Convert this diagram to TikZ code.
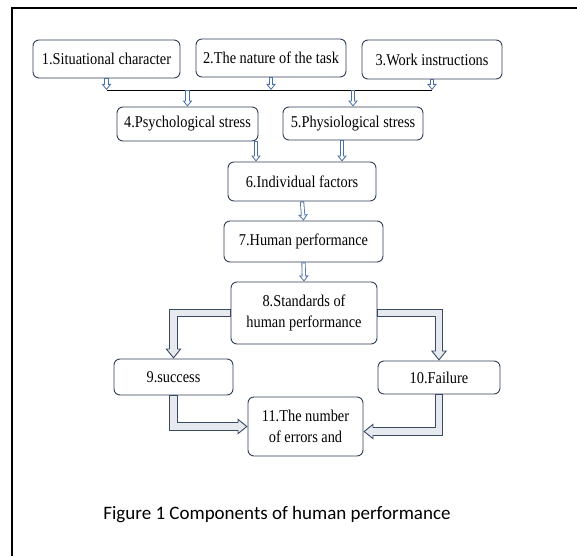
\documentclass[tikz,border=0pt]{standalone}
\usepackage{fontspec}
\setmainfont{Liberation Serif}[FakeStretch=0.87]
\newfontfamily\capfont{Carlito}
\usetikzlibrary{arrows.meta}
\usetikzlibrary{positioning}
\usetikzlibrary{calc}

\definecolor{boxline}{HTML}{2F3E55}
\definecolor{arrline}{HTML}{4A6FA5}
\definecolor{bigline}{HTML}{3A4A63}
\definecolor{bigfill}{HTML}{E6E9EE}

\tikzset{
  box/.style={draw=boxline, line width=0.9pt, rounded corners=6pt, align=center,
    inner sep=2pt, font=\fontsize{16.5}{21}\selectfont},
  hollow/.style={draw=arrline, line width=4.2pt,
    -{Triangle[length=6pt,width=9.5pt,line width=0.8pt,fill=white]},
    postaction={draw=white, line width=2.6pt, -, shorten >=5pt, shorten <=1pt}},
  bigarrow/.style={draw=bigline, line width=8.4pt,
    -{Triangle[length=10pt,width=16pt,line width=0.9pt,fill=bigfill]},
    postaction={draw=bigfill, line width=6.6pt, -, shorten >=8.5pt, shorten <=1pt}},
}

\begin{document}
\begin{tikzpicture}[x=1pt,y=1pt]
\useasboundingbox (0,0) rectangle (577,-556);
% frame
\draw[line width=1.8pt] (12,-556) -- (12,-8) -- (577,-8);

\node[box, minimum width=147pt, minimum height=38pt] (sit)   at (106.5,-59)  {1.Situational character};
\node[box, minimum width=150pt, minimum height=38pt] (task)  at (271,-58)    {2.The nature of the task};
\node[box, minimum width=140pt, minimum height=39pt] (instr) at (432,-59.5)  {3.Work instructions};
\node[box, minimum width=141pt, minimum height=34pt] (psy)   at (187.5,-124) {4.Psychological stress};
\node[box, minimum width=140pt, minimum height=33pt] (phys)  at (353,-123.5) {5.Physiological stress};
\node[box, minimum width=148pt, minimum height=39pt] (indiv) at (302,-181.5) {6.Individual factors};
\node[box, minimum width=159pt, minimum height=41pt] (perf)  at (303.5,-241.5) {7.Human performance};
\node[box, minimum width=146pt, minimum height=62pt] (std)   at (304,-313)   {8.Standards of\\human performance};
\node[box, minimum width=119pt, minimum height=36pt] (succ)  at (173.5,-377) {9.success};
\node[box, minimum width=122pt, minimum height=33pt] (fail)  at (439,-377.5) {10.Failure};
\node[box, minimum width=115pt, minimum height=59pt] (errs)  at (305.5,-426.5) {11.The number\\of errors and};

\node[font=\capfont\fontsize{19}{22}\selectfont] (cap) at (277,-515) {Figure 1 Components of human performance};

% merging line
\coordinate (bus) at (0,-90);
\draw[line width=0.9pt] (sit.south |- bus) -- (instr.south |- bus);
\foreach \n in {sit,task,instr}
  \draw[hollow] (\n.south) -- (\n.south |- bus);
\foreach \n in {psy,phys}
  \draw[hollow] (\n.north |- bus) -- (\n.north);

\coordinate (in4) at ([xshift=-46pt]indiv.north);
\coordinate (in5) at ([xshift=40pt]indiv.north);
\draw[hollow] (psy.south -| in4) -- (in4);
\draw[hollow] (phys.south -| in5) -- (in5);
\draw[hollow] (indiv.south) -- (perf.north);
\draw[hollow] (perf.south) -- (std.north);

\draw[bigarrow] (std.west) -| (succ.north);
\draw[bigarrow] (std.east) -| (fail.north);
\draw[bigarrow] (succ.south) |- (errs.west);
\draw[bigarrow] (fail.south) |- ([yshift=-5pt]errs.east);
\end{tikzpicture}
\end{document}
